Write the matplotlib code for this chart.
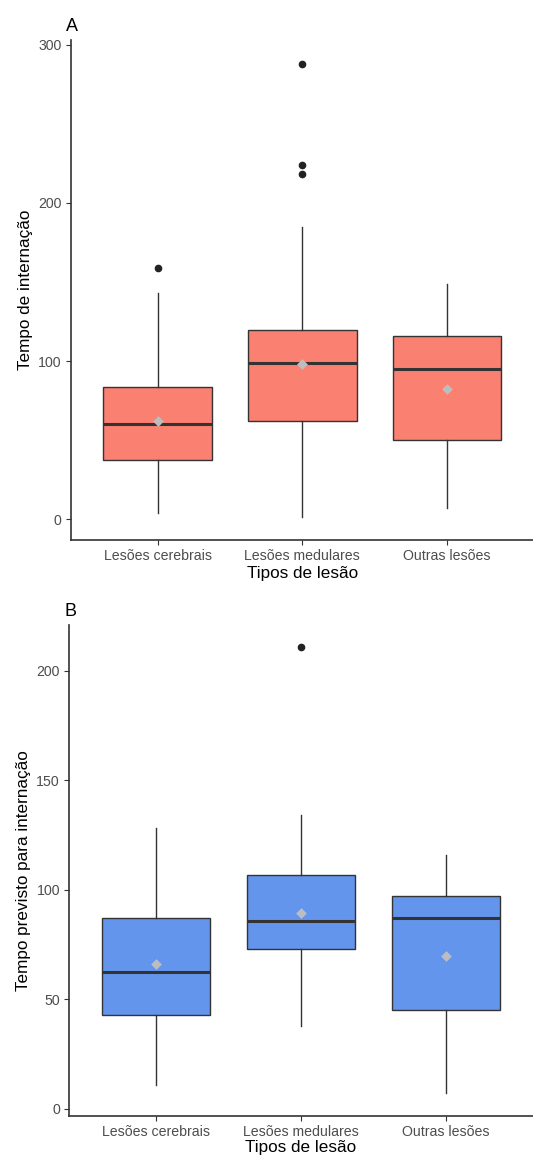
import matplotlib
matplotlib.use("Agg")
import matplotlib.pyplot as plt

plt.rcParams['font.family'] = ['Liberation Sans', 'DejaVu Sans']

categorias = ["Lesões cerebrais", "Lesões medulares", "Outras lesões"]

# painel A - tempo de internação
a_q1 = [37.5, 62, 50]
a_med = [60, 99, 95]
a_q3 = [83.5, 120, 116]
a_whislo = [4, 1.5, 7]
a_whishi = [143, 185, 149]
a_media = [62, 98, 82.5]
a_outliers = [[159], [288, 224, 218], []]

# painel B - tempo previsto
b_q1 = [42.8, 73, 45]
b_med = [62.5, 86, 87]
b_q3 = [87.3, 107, 97]
b_whislo = [11, 38, 7.3]
b_whishi = [128, 134, 116]
b_media = [66, 89.4, 69.8]
b_outliers = [[], [211], []]

W, H = 533, 1155
fig = plt.figure(figsize=(W / 100, H / 100), dpi=100)


def painel(rect_px, q1, med, q3, lo, hi, media, outl, cor, ylabel, letra,
           ylim, yticks, xpad=2):
    x0, y0, x1, y1 = rect_px
    ax = fig.add_axes([x0 / W, 1 - y1 / H, (x1 - x0) / W, (y1 - y0) / H])
    stats = []
    for i in range(len(categorias)):
        stats.append(dict(q1=q1[i], med=med[i], q3=q3[i], whislo=lo[i],
                          whishi=hi[i], fliers=outl[i], label=categorias[i]))
    ax.bxp(stats, positions=[1, 2, 3], widths=0.75, patch_artist=True,
           showcaps=False,
           boxprops=dict(facecolor=cor, edgecolor='#333333', linewidth=1.0),
           medianprops=dict(color='#333333', linewidth=2.2),
           whiskerprops=dict(color='#333333', linewidth=1.0),
           flierprops=dict(marker='o', markerfacecolor='#222222',
                           markeredgecolor='#222222', markersize=4.5))
    ax.scatter([1, 2, 3], media, marker='D', s=30, color='#bdbdbd',
               zorder=5, linewidths=0)
    ax.set_xlim(0.4, 3.6)
    ax.set_ylim(*ylim)
    ax.set_yticks(yticks)
    ax.set_xticks([1, 2, 3])
    ax.set_xticklabels(categorias)
    for s in ['top', 'right']:
        ax.spines[s].set_visible(False)
    for s in ['left', 'bottom']:
        ax.spines[s].set_color('#333333')
        ax.spines[s].set_linewidth(1.2)
    ax.tick_params(axis='both', colors='#333333', length=3.5, width=0.8,
                   labelsize=10.2, labelcolor='#4d4d4d', pad=3)
    ax.set_xlabel("Tipos de lesão", fontsize=12.3, color='black', labelpad=xpad)
    ax.set_ylabel(ylabel, fontsize=12.3, color='black', labelpad=4)
    ax.text(-0.01, 1.01, letra, transform=ax.transAxes, fontsize=13,
            ha='left', va='bottom')
    return ax


painel((70.7, 40, 534, 540), a_q1, a_med, a_q3, a_whislo, a_whishi, a_media,
       a_outliers, '#FA8072', "Tempo de internação", "A", (-13, 303),
       [0, 100, 200, 300])
painel((69, 624.7, 533, 1116), b_q1, b_med, b_q3, b_whislo, b_whishi, b_media,
       b_outliers, '#6495ED', "Tempo previsto para internação", "B",
       (-3.2, 221), [0, 50, 100, 150, 200], xpad=0.5)

fig.savefig("out.png", dpi=100)
